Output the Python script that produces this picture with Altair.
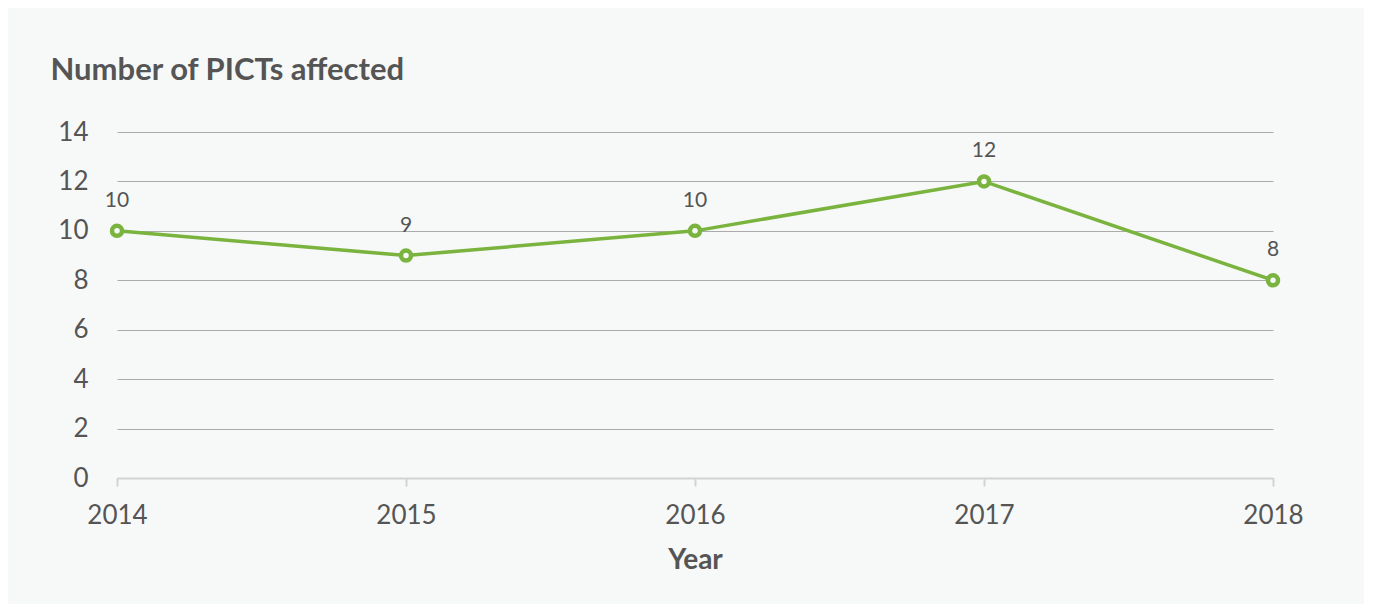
import altair as alt
import pandas as pd

years = [2014, 2015, 2016, 2017, 2018]
picts = [10, 9, 10, 12, 8]

df = pd.DataFrame({"Year": years, "PICTs": picts})

FONT = "Lato"
TXT = "#555555"
GREEN = "#7ab33e"
BG = "#f7f9f9"

x = alt.X(
    "Year:Q",
    scale=alt.Scale(domain=[2014, 2018], nice=False, zero=False),
    axis=alt.Axis(
        values=years, format="d", title="Year", grid=False,
        labelFont=FONT, labelFontSize=26, labelColor=TXT, labelPadding=16,
        labelFlush=False,
        domainColor="#d3d3d3", domainWidth=2,
        tickColor="#d3d3d3", tickWidth=2, tickSize=8,
        titleFont=FONT, titleFontSize=28, titleFontWeight="bold", titleColor=TXT,
        titleY=82, titleBaseline="middle",
    ),
)
y = alt.Y(
    "PICTs:Q",
    scale=alt.Scale(domain=[0, 14], nice=False),
    axis=alt.Axis(
        values=[0, 2, 4, 6, 8, 10, 12, 14], title="Number of PICTs affected",
        grid=True, gridColor="#ababab", gridWidth=1,
        domain=False, ticks=False,
        labelFont=FONT, labelFontSize=26, labelColor=TXT, labelPadding=29,
        titleFont=FONT, titleFontSize=31, titleFontWeight="bold", titleColor=TXT,
        titleAngle=0, titleAlign="left", titleBaseline="middle",
        titleX=-67, titleY=-62,
    ),
)

base = alt.Chart(df).encode(x=x, y=y)
line = base.mark_line(color=GREEN, strokeWidth=3.5)
pts = base.mark_point(color=GREEN, filled=False, strokeWidth=4.5, size=100, opacity=1, fill=BG)
labels = base.mark_text(font=FONT, fontSize=21, color=TXT, dy=-30, baseline="middle").encode(
    text=alt.Text("PICTs:Q")
)

chart = (
    alt.layer(line, pts, labels)
    .properties(
        width=1156, height=346, background=BG,
        autosize=alt.AutoSizeParams(type="none"),
        padding={"left": 109, "top": 124, "right": 91, "bottom": 126},
    )
    .configure_view(stroke=None)
)

chart.save("out.html", embed_options={"renderer": "svg", "actions": False})
